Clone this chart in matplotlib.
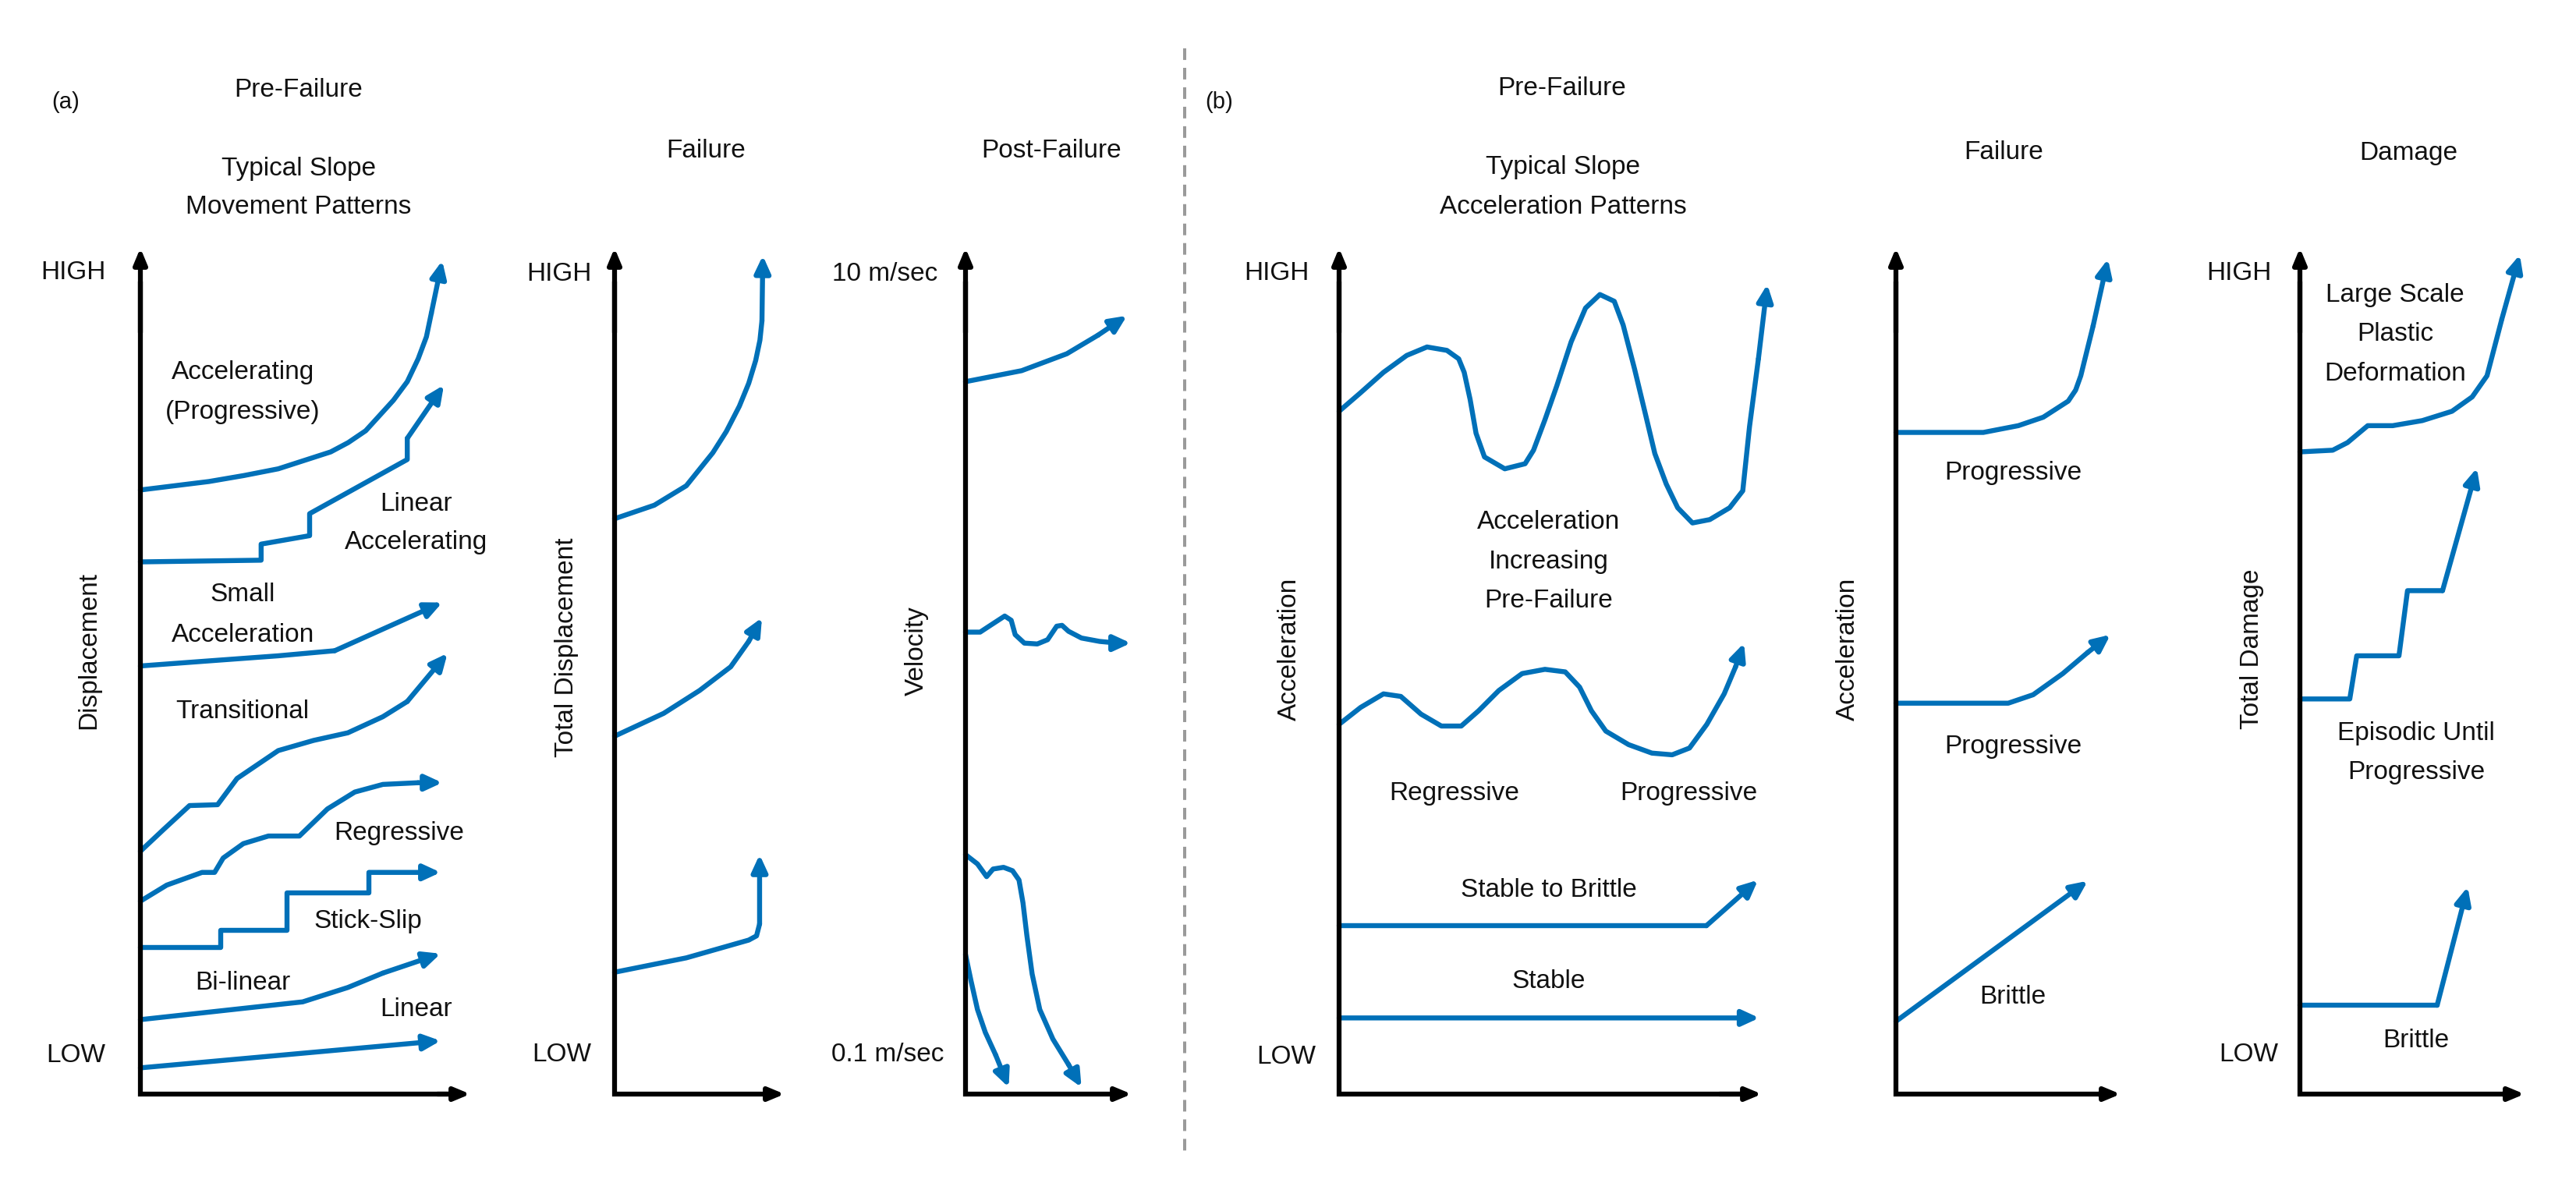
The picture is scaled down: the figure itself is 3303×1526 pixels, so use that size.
import matplotlib
matplotlib.use("Agg")
import matplotlib.pyplot as plt
from matplotlib.lines import Line2D

plt.rcParams['font.family'] = ['Liberation Sans', 'DejaVu Sans']

# ---------------- data (time 0-100 along x, level 0-100 along y) ----------------
# (a) Pre-failure: typical slope movement patterns
a1_accel_x = [0, 20.8, 31.3, 41.8, 57.7, 63.0, 68.3, 76.7, 80.9, 84.2, 86.7, 88.2, 91.5]
a1_accel_y = [71.4, 72.4, 73.1, 73.9, 75.9, 77.0, 78.4, 82.0, 84.2, 86.9, 89.5, 92.3, 98.5]
a1_linacc_x = [0, 36.6, 36.6, 51.3, 51.3, 80.9, 80.9, 92.0]
a1_linacc_y = [62.9, 63.1, 65.0, 66.0, 68.6, 75.0, 77.5, 83.8]
a1_small_x = [0, 20.8, 41.8, 58.9, 91.5]
a1_small_y = [50.6, 51.2, 51.8, 52.4, 58.1]
a1_trans_x = [0, 7.1, 14.9, 23.4, 29.3, 41.8, 52.5, 62.9, 73.5, 80.9, 93.1]
a1_trans_y = [28.7, 31.3, 34.1, 34.2, 37.3, 40.6, 41.8, 42.7, 44.6, 46.4, 52.1]
a1_regr_x = [0, 8.0, 18.7, 22.5, 25.1, 31.2, 38.8, 48.2, 56.7, 65.0, 73.5, 84.2, 91.5]
a1_regr_y = [22.8, 24.7, 26.2, 26.2, 27.9, 29.6, 30.5, 30.5, 33.7, 35.7, 36.6, 36.8, 36.8]
a1_stick_x = [0, 24.3, 24.3, 44.4, 44.4, 69.3, 69.3, 91.0]
a1_stick_y = [17.3, 17.3, 19.4, 19.4, 23.8, 23.8, 26.2, 26.2]
a1_bilin_x = [0, 49.2, 62.9, 73.5, 91.0]
a1_bilin_y = [8.8, 10.9, 12.6, 14.3, 16.6]
a1_lin_x = [0, 91.0]
a1_lin_y = [3.1, 6.3]

# (a) Failure: total displacement
a2_top_x = [0, 23.4, 42.2, 57.8, 65.7, 73.4, 78.9, 83.0, 85.5, 86.7, 87.2]
a2_top_y = [68.0, 69.6, 71.9, 75.8, 78.3, 81.3, 84.0, 86.7, 89.1, 91.4, 99.1]
a2_mid_x = [0, 28.9, 50.0, 68.3, 78.9, 86.7]
a2_mid_y = [42.3, 45.0, 47.7, 50.5, 53.5, 56.3]
a2_bot_x = [0, 42.2, 78.9, 83.5, 85.3, 85.3]
a2_bot_y = [14.4, 16.1, 18.2, 18.7, 20.1, 28.3]

# (a) Post-failure: velocity
a3_top_x = [0, 33.8, 61.0, 79.8, 97.2]
a3_top_y = [84.2, 85.5, 87.5, 89.7, 92.0]
a3_wave_x = [0, 8.8, 15.0, 23.6, 27.5, 29.9, 35.4, 43.2, 49.4, 54.9, 58.1, 62.0, 69.8,
             80.8, 91.7, 99.5]
a3_wave_y = [54.6, 54.6, 55.4, 56.5, 56.0, 54.3, 53.3, 53.2, 53.7, 55.3, 55.4, 54.7, 53.9,
             53.5, 53.3, 53.3]
a3_drop1_x = [0, 7.2, 12.7, 16.6, 22.9, 28.3, 32.2, 34.6, 36.9, 40.1, 44.7, 52.6, 62.0, 69.8]
a3_drop1_y = [28.3, 27.2, 25.7, 26.6, 26.8, 26.4, 25.3, 22.6, 18.8, 14.2, 10.0, 6.5, 3.5, 0.8]
a3_drop2_x = [0, 3.3, 7.2, 11.9, 18.2, 26.0]
a3_drop2_y = [16.5, 13.4, 10.0, 7.3, 4.6, 0.8]

# (b) Pre-failure: typical slope acceleration patterns
b1_incr_x = [0, 5.1, 10.5, 16.0, 20.8, 25.5, 28.3, 29.6, 31.0, 32.4, 34.4, 39.2, 44.0, 46.0,
             48.7, 51.5, 54.9, 58.3, 61.7, 65.1, 67.2, 69.9, 72.6, 74.7, 77.4, 80.1, 83.6,
             87.7, 92.4, 95.5, 97.1, 99.2, 101.3]
b1_incr_y = [80.7, 82.9, 85.3, 87.3, 88.3, 87.9, 86.9, 85.3, 82.1, 78.1, 75.3, 73.9, 74.5,
             76.1, 79.7, 83.7, 88.9, 92.9, 94.5, 93.7, 90.9, 85.7, 80.1, 75.7, 72.1, 69.3,
             67.5, 67.9, 69.3, 71.3, 78.9, 86.9, 95.7]
b1_regr_x = [0, 5.1, 10.5, 14.6, 19.4, 24.2, 28.9, 33.0, 37.8, 43.3, 48.7, 53.5, 56.9, 59.7,
             63.1, 68.5, 74.0, 78.8, 82.9, 87.0, 91.1, 93.8, 95.8]
b1_regr_y = [43.7, 45.7, 47.3, 47.0, 44.9, 43.5, 43.5, 45.3, 47.7, 49.7, 50.2, 49.9, 48.1,
             45.3, 42.9, 41.3, 40.3, 40.1, 40.9, 43.7, 47.3, 50.5, 53.3]
b1_s2b_x = [0, 86.9, 99.1]
b1_s2b_y = [19.9, 19.9, 25.3]
b1_stable_x = [0, 99.4]
b1_stable_y = [9.0, 9.0]

# (b) Failure: acceleration
b2_prog1_x = [0, 38.9, 54.5, 65.6, 76.7, 80.0, 82.3, 87.8, 94.4]
b2_prog1_y = [78.2, 78.2, 79.0, 80.0, 81.9, 83.2, 84.9, 90.8, 98.7]
b2_prog2_x = [0, 50.0, 61.1, 74.3, 85.4, 95.5]
b2_prog2_y = [46.2, 46.2, 47.2, 49.7, 52.2, 54.3]
b2_brit_x = [0, 85.4]
b2_brit_y = [8.6, 25.2]

# (b) Damage: total damage
b3_plastic_x = [0, 14.6, 21.2, 30.2, 41.3, 54.5, 67.7, 76.7, 83.3, 89.9, 97.9]
b3_plastic_y = [75.9, 76.1, 77.0, 79.0, 79.0, 79.6, 80.7, 82.4, 84.9, 91.6, 99.2]
b3_episodic_x = [0, 22.2, 25.3, 44.1, 47.9, 63.5, 78.8]
b3_episodic_y = [46.7, 46.7, 51.8, 51.8, 59.5, 59.5, 74.0]
b3_brittle_x = [0, 61.1, 74.7]
b3_brittle_y = [10.5, 10.5, 24.5]

# ---------------- layout / style ----------------
FIG_W, FIG_H, DPI = 3303, 1526, 100
BLUE = '#0070B8'
FS = 24
LW = 4.6
Y_ORIGIN, Y_TIP = 1403, 318

fig = plt.figure(figsize=(FIG_W / DPI, FIG_H / DPI), dpi=DPI)
fig.patch.set_facecolor('white')


def make_panel(x0, x1):
    ax = fig.add_axes([x0 / FIG_W, 1 - Y_ORIGIN / FIG_H, (x1 - x0) / FIG_W,
                       (Y_ORIGIN - Y_TIP) / FIG_H])
    ax.set_xlim(0, 100)
    ax.set_ylim(0, 100)
    ax.axis('off')
    ax.plot([0, 0, 96], [96, 0, 0], color='black', lw=4.5,
            solid_joinstyle='miter', solid_capstyle='butt', zorder=6, clip_on=False)
    for tip, start in [((0, 100), (0, 90)), ((100, 0), (90, 0))]:
        ax.annotate('', xy=tip, xytext=start,
                    arrowprops=dict(arrowstyle='-|>,head_length=1.2,head_width=0.5',
                                    mutation_scale=10, lw=4.5, color='black',
                                    shrinkA=0, shrinkB=0),
                    annotation_clip=False, zorder=6)
    return ax


def curve(ax, xs, ys):
    if len(xs) > 2:
        ax.plot(xs[:-1], ys[:-1], color=BLUE, lw=LW, solid_joinstyle='round',
                solid_capstyle='round', zorder=3, clip_on=False)
    ax.annotate('', xy=(xs[-1], ys[-1]), xytext=(xs[-2], ys[-2]),
                arrowprops=dict(arrowstyle='-|>,head_length=1.3,head_width=0.6',
                                mutation_scale=10, lw=LW, color=BLUE,
                                shrinkA=0, shrinkB=0),
                annotation_clip=False, zorder=3)


def label(ax, txt, x, y, rot=0, size=FS):
    ax.text(x, y, txt, ha='center', va='center', fontsize=size, rotation=rot,
            clip_on=False, color='#111111')


def ftext(txt, x, y, size=FS):
    fig.text(x / FIG_W, 1 - y / FIG_H, txt, ha='center', va='center',
             fontsize=size, color='#111111')


# ---------------- panel (a) ----------------
ax = make_panel(180, 603)
for xs, ys in [(a1_accel_x, a1_accel_y), (a1_linacc_x, a1_linacc_y),
               (a1_small_x, a1_small_y), (a1_trans_x, a1_trans_y),
               (a1_regr_x, a1_regr_y), (a1_stick_x, a1_stick_y),
               (a1_bilin_x, a1_bilin_y), (a1_lin_x, a1_lin_y)]:
    curve(ax, xs, ys)
for t, x, y in [("Accelerating", 31.0, 85.3), ("(Progressive)", 31.0, 80.6),
                ("Linear", 83.5, 69.7), ("Accelerating", 83.5, 65.2),
                ("Small", 31.0, 59.0), ("Acceleration", 31.0, 54.2),
                ("Transitional", 31.0, 45.2), ("Regressive", 78.3, 30.8),
                ("Stick-Slip", 69.0, 20.4), ("Bi-linear", 31.0, 13.1),
                ("Linear", 83.5, 10.0), ("HIGH", -20.3, 97.1), ("LOW", -19.6, 4.6)]:
    label(ax, t, x, y)
label(ax, "Displacement", -15.6, 52.4, rot=90)

ax = make_panel(788, 1006)
for xs, ys in [(a2_top_x, a2_top_y), (a2_mid_x, a2_mid_y), (a2_bot_x, a2_bot_y)]:
    curve(ax, xs, ys)
label(ax, "HIGH", -32.6, 96.9)
label(ax, "LOW", -31.2, 4.7)
label(ax, "Total Displacement", -28.4, 52.8, rot=90)

ax = make_panel(1238, 1451)
for xs, ys in [(a3_top_x, a3_top_y), (a3_wave_x, a3_wave_y),
               (a3_drop1_x, a3_drop1_y), (a3_drop2_x, a3_drop2_y)]:
    curve(ax, xs, ys)
label(ax, "10 m/sec", -48.4, 96.9)
label(ax, "0.1 m/sec", -46.9, 4.7)
label(ax, "Velocity", -29.6, 52.4, rot=90)

# ---------------- panel (b) ----------------
ax = make_panel(1717, 2259)
for xs, ys in [(b1_incr_x, b1_incr_y), (b1_regr_x, b1_regr_y),
               (b1_s2b_x, b1_s2b_y), (b1_stable_x, b1_stable_y)]:
    curve(ax, xs, ys)
for t, x, y in [("Acceleration", 49.6, 67.6), ("Increasing", 49.6, 62.9),
                ("Pre-Failure", 49.6, 58.3), ("Regressive", 27.3, 35.5),
                ("Progressive", 82.7, 35.5), ("Stable to Brittle", 49.6, 24.1),
                ("Stable", 49.6, 13.3), ("HIGH", -14.8, 97.0), ("LOW", -12.5, 4.4)]:
    label(ax, t, x, y)
label(ax, "Acceleration", -11.8, 52.6, rot=90)

ax = make_panel(2431, 2719)
for xs, ys in [(b2_prog1_x, b2_prog1_y), (b2_prog2_x, b2_prog2_y), (b2_brit_x, b2_brit_y)]:
    curve(ax, xs, ys)
for t, x, y in [("Progressive", 52.1, 73.4), ("Progressive", 52.1, 41.1),
                ("Brittle", 52.1, 11.5)]:
    label(ax, t, x, y)
label(ax, "Acceleration", -21.5, 52.6, rot=90)

ax = make_panel(2949, 3237)
for xs, ys in [(b3_plastic_x, b3_plastic_y), (b3_episodic_x, b3_episodic_y),
               (b3_brittle_x, b3_brittle_y)]:
    curve(ax, xs, ys)
for t, x, y in [("Large Scale", 42.4, 94.4), ("Plastic", 42.4, 89.8),
                ("Deformation", 42.4, 85.1), ("Episodic Until", 51.7, 42.6),
                ("Progressive", 51.7, 38.0), ("Brittle", 51.7, 6.3),
                ("HIGH", -27.1, 97.0), ("LOW", -22.9, 4.7)]:
    label(ax, t, x, y)
label(ax, "Total Damage", -21.5, 52.6, rot=90)

# ---------------- titles ----------------
ftext("(a)", 84, 131, size=21)
ftext("Pre-Failure", 383, 115)
ftext("Typical Slope", 383, 216)
ftext("Movement Patterns", 383, 266)
ftext("Failure", 905, 193)
ftext("Post-Failure", 1348, 193)
ftext("(b)", 1563, 131, size=21)
ftext("Pre-Failure", 2003, 114)
ftext("Typical Slope", 2004, 215)
ftext("Acceleration Patterns", 2004, 266)
ftext("Failure", 2569, 195)
ftext("Damage", 3088, 197)

# dashed separator
fig.add_artist(Line2D([1519 / FIG_W, 1519 / FIG_W], [1 - 62 / FIG_H, 1 - 1485 / FIG_H],
                      transform=fig.transFigure, color='#9a9a9a', lw=2.9,
                      linestyle=(0, (3.7, 2.5))))

fig.savefig('out.png', dpi=DPI, facecolor='white')
